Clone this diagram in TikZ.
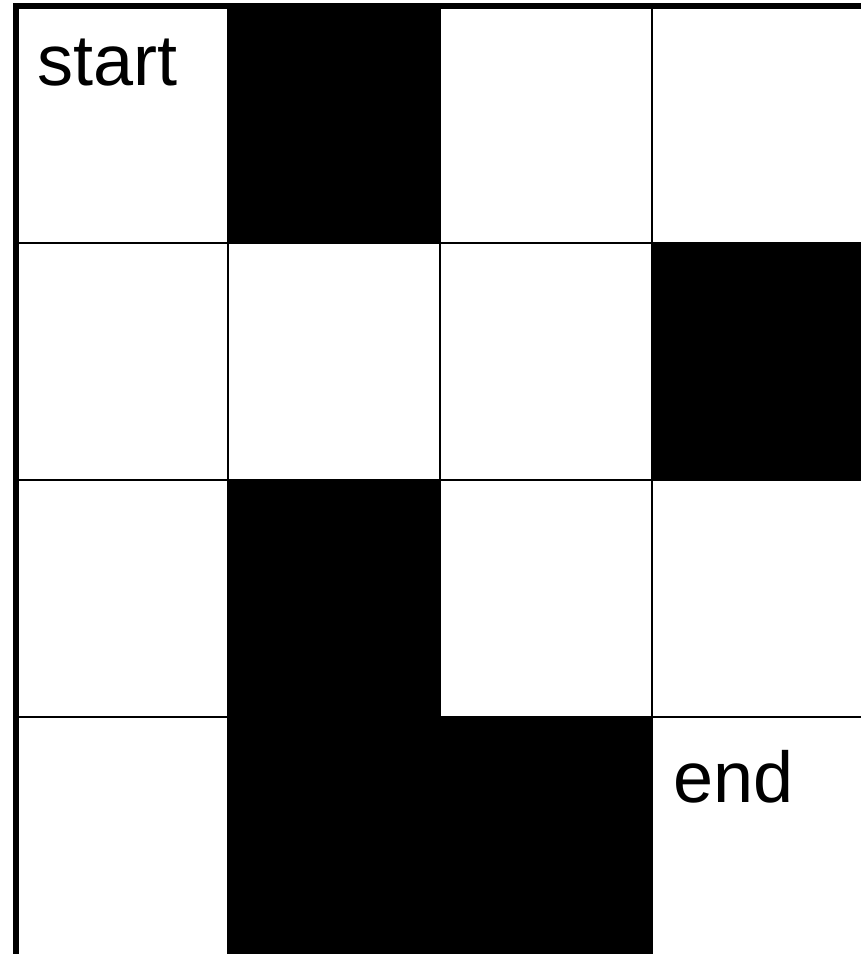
\documentclass[tikz,border=0pt]{standalone}
\usepackage{fontspec}
\setmainfont{Liberation Sans}
\begin{document}
\begin{tikzpicture}[x=0.5pt, y=-0.5pt,
    every node/.style={font=\fontsize{36}{40}\selectfont, inner sep=0pt, anchor=base west},
    gridline/.style={line width=1.2pt},
    border/.style={line width=3pt}]
    \useasboundingbox (0,0) rectangle (861,954);
    \clip (0,0) rectangle (861,954);
    \fill[white] (0,0) rectangle (861,954);

    % walls of the maze
    \foreach \c/\r in {1/0, 3/1, 1/2, 1/3, 2/3}
        \fill[black] (16+\c*212, 6+\r*237) rectangle ++(212,237);

    % cell lines
    \foreach \c in {1,2,3}
        \draw[gridline] (16+\c*212, 6) -- (16+\c*212, 960);
    \foreach \r in {1,2,3}
        \draw[gridline] (16, 6+\r*237) -- (870, 6+\r*237);

    \draw[border] (16,962) -- (16,6) -- (870,6);

    \node (startlabel) at (37,85) {start};
    \node (endlabel) at (673,802) {end};
\end{tikzpicture}
\end{document}
